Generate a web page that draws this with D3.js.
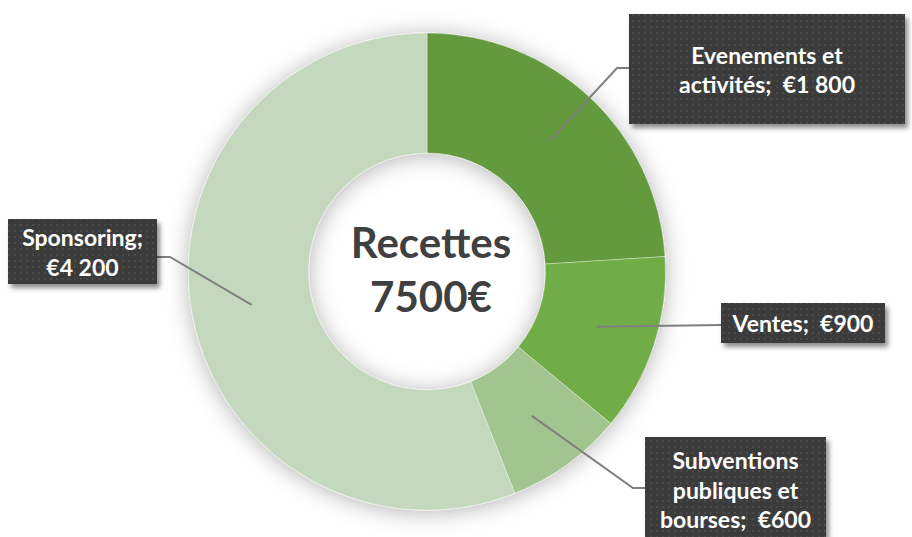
<!DOCTYPE html>
<html>
<head>
<meta charset="utf-8">
<script src="https://cdn.jsdelivr.net/npm/d3@7"></script>
<style>
  html, body { margin: 0; padding: 0; background: #fff; }
  svg { display: block; }
</style>
</head>
<body>
<div id="chart"></div>
<script>
// Datos ///////////////////////////////////////////////////////////////////////

const categories = ['Evenements et activités', 'Ventes', 'Subventions publiques et bourses', 'Sponsoring'];
const values = [1800, 900, 600, 4200];
const colors = ['#629A3E', '#70AD47', '#A2C58F', '#C3D8BC'];
// {v} se reemplaza por el valor formateado
const labelLines = [
  ['Evenements et', 'activités;  {v}'],
  ['Ventes;  {v}'],
  ['Subventions', 'publiques et', 'bourses;  {v}'],
  ['Sponsoring;', '{v}']
];
const centerLines = ['Recettes', '7500€'];

document.addEventListener('DOMContentLoaded', function() {

  const width = 912;
  const height = 537;
  const cx = 427, cy = 271.5;
  const outerR = 238.5, innerR = 118.5;

  // Cajas de etiquetas y codos de las líneas guía (layout)
  const boxes = [
    { x: 629, y: 14,  w: 276, h: 110, elbow: [617, 68],  end: [629, 68] },
    { x: 721, y: 303, w: 164, h: 40,  elbow: null,       end: [721, 325] },
    { x: 645, y: 437, w: 181, h: 105, elbow: [633, 488], end: [645, 488] },
    { x: 8,   y: 219, w: 149, h: 65,  elbow: [170, 257], end: [157, 257] }
  ];

  const euro = d3.formatLocale({ decimal: ',', thousands: '\u00a0', grouping: [3], currency: ['€', ''] }).format('$,');

  const svg = d3.select('#chart').append('svg')
    .attr('viewBox', [0, 0, width, height])
    .attr('width', width)
    .attr('height', height);

  const defs = svg.append('defs');

  defs.append('filter').attr('id', 'ring-shadow')
    .attr('x', '-20%').attr('y', '-20%').attr('width', '140%').attr('height', '140%')
    .append('feDropShadow')
    .attr('dx', 0).attr('dy', 2)
    .attr('stdDeviation', 11)
    .attr('flood-color', '#000')
    .attr('flood-opacity', 0.3);

  defs.append('filter').attr('id', 'box-shadow')
    .attr('x', '-10%').attr('y', '-10%').attr('width', '130%').attr('height', '140%')
    .append('feDropShadow')
    .attr('dx', 3).attr('dy', 4)
    .attr('stdDeviation', 2.5)
    .attr('flood-color', '#000')
    .attr('flood-opacity', 0.45);

  const pattern = defs.append('pattern').attr('id', 'dots')
    .attr('width', 6).attr('height', 6)
    .attr('patternUnits', 'userSpaceOnUse');
  pattern.append('rect').attr('width', 6).attr('height', 6).attr('fill', '#3a3a3a');
  pattern.append('rect').attr('x', 2).attr('y', 2).attr('width', 2).attr('height', 2).attr('fill', '#4c4c4c');

  // ━━━━━━━━━━━━━━━━━━━━━━━━━━━━━━━━━━━━━━━━━━━━━━━━━━━━━━━━━━━━━━━━━━━━━━━━━━━━
  // Donut ////////////////////////////////////////////////////////////////////////
  // ━━━━━━━━━━━━━━━━━━━━━━━━━━━━━━━━━━━━━━━━━━━━━━━━━━━━━━━━━━━━━━━━━━━━━━━━━━━━

  const data = categories.map((c, i) => ({ name: c, value: values[i], color: colors[i], lines: labelLines[i], box: boxes[i] }));

  const pie = d3.pie().value(d => d.value).sort(null);
  const arc = d3.arc().innerRadius(innerR).outerRadius(outerR);
  const arcs = pie(data);

  const ring = svg.append('g')
    .attr('transform', `translate(${cx},${cy})`)
    .attr('filter', 'url(#ring-shadow)');

  ring.selectAll('path')
    .data(arcs)
    .join('path')
    .attr('d', arc)
    .attr('fill', d => d.data.color)
    .attr('stroke', 'rgba(255,255,255,0.45)')
    .attr('stroke-width', 0.75);

  // Texto central
  svg.append('g')
    .selectAll('text')
    .data(centerLines)
    .join('text')
    .attr('x', cx + 4)
    .attr('y', (d, i) => 258 + i * 54)
    .attr('text-anchor', 'middle')
    .attr('font-family', 'Lato, sans-serif')
    .attr('font-weight', 700)
    .attr('font-size', 42)
    .attr('fill', '#404040')
    .text(d => d);

  // ━━━━━━━━━━━━━━━━━━━━━━━━━━━━━━━━━━━━━━━━━━━━━━━━━━━━━━━━━━━━━━━━━━━━━━━━━━━━
  // Líneas guía + etiquetas //////////////////////////////////////////////////////
  // ━━━━━━━━━━━━━━━━━━━━━━━━━━━━━━━━━━━━━━━━━━━━━━━━━━━━━━━━━━━━━━━━━━━━━━━━━━━━

  svg.append('g')
    .selectAll('polyline')
    .data(arcs)
    .join('polyline')
    .attr('points', d => {
      const c = arc.centroid(d);
      const pts = [[cx + c[0], cy + c[1]]];
      if (d.data.box.elbow) pts.push(d.data.box.elbow);
      pts.push(d.data.box.end);
      return pts.map(p => p.join(',')).join(' ');
    })
    .attr('fill', 'none')
    .attr('stroke', '#7f7f7f')
    .attr('stroke-width', 2);

  const fs = 23, lh = 29.5;

  const labels = svg.append('g')
    .selectAll('g')
    .data(arcs)
    .join('g');

  labels.append('rect')
    .attr('x', d => d.data.box.x)
    .attr('y', d => d.data.box.y)
    .attr('width', d => d.data.box.w)
    .attr('height', d => d.data.box.h)
    .attr('fill', 'url(#dots)')
    .attr('filter', 'url(#box-shadow)');

  labels.each(function(d) {
    const b = d.data.box;
    const n = d.data.lines.length;
    const first = b.y + b.h / 2 - (n - 1) * lh / 2 + fs * 0.36 + 1;
    d3.select(this).selectAll('text')
      .data(d.data.lines.map(l => l.replace('{v}', euro(d.data.value))))
      .join('text')
      .attr('x', b.x + b.w / 2)
      .attr('y', (t, i) => first + i * lh)
      .attr('text-anchor', 'middle')
      .attr('font-family', 'Lato, sans-serif')
      .attr('font-weight', 700)
      .attr('font-size', fs)
      .attr('fill', '#fff')
      .attr('xml:space', 'preserve')
      .style('white-space', 'pre')
      .text(t => t);
  });

});
</script>
</body>
</html>
